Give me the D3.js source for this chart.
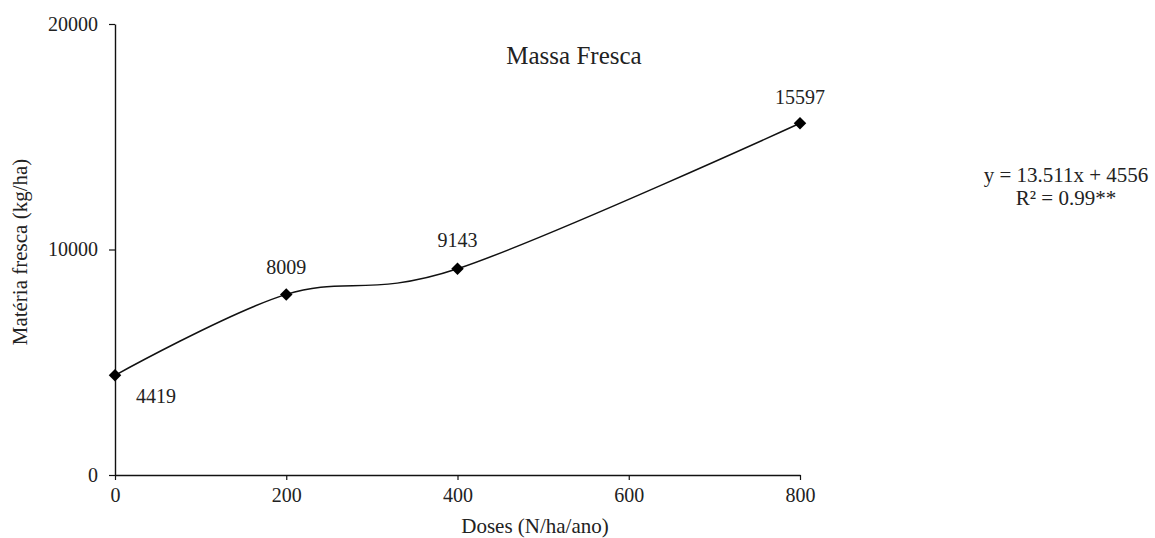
<!DOCTYPE html>
<html>
<head>
<meta charset="utf-8">
<script src="https://cdn.jsdelivr.net/npm/d3@7"></script>
<style>
  body { margin: 0; background: #fff; }
  text { font-family: "Liberation Serif", "DejaVu Serif", serif; fill: #222; }
</style>
</head>
<body>
<div id="chart"></div>
<script>
// data
const doses = [0, 200, 400, 800];
const massa = [4419, 8009, 9143, 15597];
const xTicks = [0, 200, 400, 600, 800];
const yTicks = [0, 10000, 20000];

const width = 1155;
const height = 538;
const margin = { left: 115, right: 355, top: 24, bottom: 63 };

const svg = d3.select('#chart')
    .append('svg')
    .attr('width', width)
    .attr('height', height);

const x = d3.scaleLinear().domain([0, 800]).range([margin.left, width - margin.right]);
const y = d3.scaleLinear().domain([0, 20000]).range([height - margin.bottom, margin.top]);

// axes
const xAxis = svg.append('g')
    .attr('transform', `translate(0,${y(0)})`)
    .call(d3.axisBottom(x).tickValues(xTicks).tickFormat(d3.format('d'))
        .tickSize(5).tickPadding(8).tickSizeOuter(0));
const yAxis = svg.append('g')
    .attr('transform', `translate(${x(0)},0)`)
    .call(d3.axisLeft(y).tickValues(yTicks).tickFormat(d3.format('d'))
        .tickSize(6).tickPadding(11).tickSizeOuter(0));

[xAxis, yAxis].forEach(g => {
    g.select('.domain').attr('stroke', '#111').attr('stroke-width', 1.4);
    g.selectAll('.tick line').attr('stroke', '#111').attr('stroke-width', 1.2);
    g.selectAll('.tick text')
        .style('font-family', '"Liberation Serif", serif')
        .style('font-size', '20px')
        .attr('fill', '#222');
});

// smoothed line, like the spreadsheet's smoothed series
const pts = doses.map((d, i) => [d, massa[i]]);
const line = d3.line()
    .x(d => x(d[0]))
    .y(d => y(d[1]))
    .curve(d3.curveCardinal.tension(0));

svg.append('path')
    .datum(pts)
    .attr('d', line)
    .attr('fill', 'none')
    .attr('stroke', '#111')
    .attr('stroke-width', 1.5);

// diamond markers
svg.selectAll('.pt')
    .data(pts)
    .enter()
    .append('path')
    .attr('class', 'pt')
    .attr('d', d3.symbol().type(d3.symbolDiamond2).size(100))
    .attr('transform', d => `translate(${x(d[0])},${y(d[1])})`)
    .attr('fill', '#000');

// value labels
const labelOffsets = [[41, 28], [0, -20], [0, -22], [0, -19]];
svg.selectAll('.val')
    .data(pts)
    .enter()
    .append('text')
    .attr('class', 'val')
    .attr('x', (d, i) => x(d[0]) + labelOffsets[i][0])
    .attr('y', (d, i) => y(d[1]) + labelOffsets[i][1])
    .attr('text-anchor', 'middle')
    .style('font-size', '20px')
    .text(d => d[1]);

// title
svg.append('text')
    .attr('x', 574)
    .attr('y', 64)
    .attr('text-anchor', 'middle')
    .style('font-size', '25px')
    .text('Massa Fresca');

// regression equation
svg.append('text')
    .attr('x', 1066)
    .attr('y', 182)
    .attr('text-anchor', 'middle')
    .style('font-size', '21px')
    .text('y = 13.511x + 4556');
svg.append('text')
    .attr('x', 1066)
    .attr('y', 205)
    .attr('text-anchor', 'middle')
    .style('font-size', '21px')
    .text('R² = 0.99**');

// axis titles
svg.append('text')
    .attr('x', 535)
    .attr('y', 533)
    .attr('text-anchor', 'middle')
    .style('font-size', '21px')
    .text('Doses (N/ha/ano)');

svg.append('text')
    .attr('transform', `translate(27,252) rotate(-90)`)
    .attr('text-anchor', 'middle')
    .style('font-size', '21px')
    .text('Matéria fresca (kg/ha)');
</script>
</body>
</html>
